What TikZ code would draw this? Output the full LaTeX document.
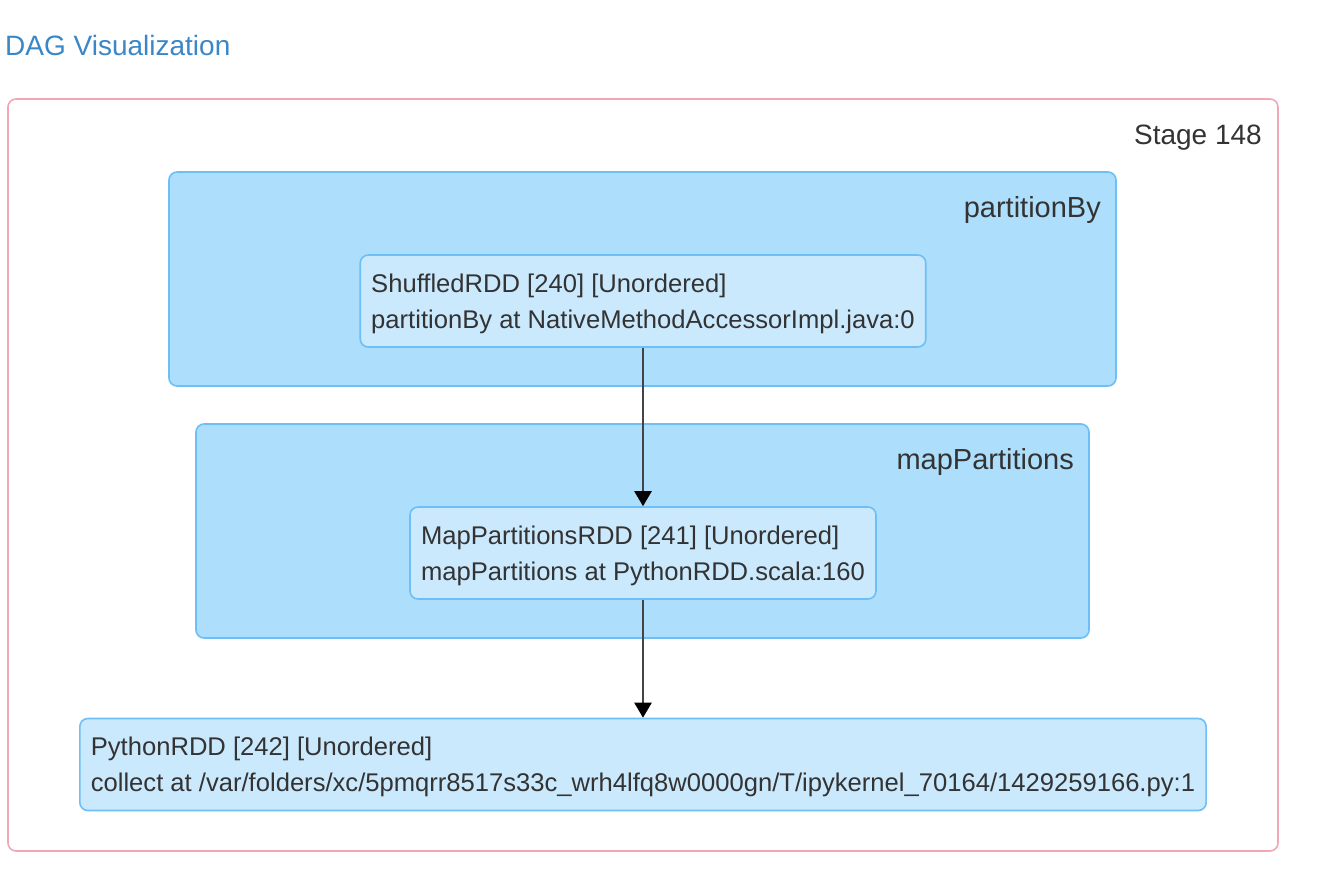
\documentclass[tikz,border=0pt]{standalone}
\usepackage{fontspec}
\setmainfont{Liberation Sans}
\usetikzlibrary{positioning,arrows.meta}
\definecolor{dagTitle}{HTML}{3A87C8}
\definecolor{dagStage}{HTML}{F2A8B4}
\definecolor{dagCluster}{HTML}{ADDEFB}
\definecolor{dagBorder}{HTML}{6DBFF5}
\definecolor{dagNode}{HTML}{CBE9FD}
\definecolor{dagText}{HTML}{333333}
\definecolor{dagEdge}{HTML}{444444}
\newcommand{\dagstrut}{\rule{0pt}{23.5pt}}
\tikzset{
  dag-stage/.style={
    draw=dagStage, line width=1.6pt, rounded corners=8pt,
    inner sep=0pt, minimum width=1270pt, minimum height=752pt
  },
  dag-cluster/.style={
    draw=dagBorder, fill=dagCluster, line width=1.6pt,
    rounded corners=8pt, inner sep=0pt
  },
  dag-rdd/.style={
    draw=dagBorder, fill=dagNode, line width=1.6pt, rounded corners=8pt,
    align=left, inner xsep=11pt, inner ysep=0pt, minimum height=92pt,
    text=dagText, font=\fontsize{25.6}{36}\selectfont
  },
  dag-label/.style={text=dagText, inner sep=0pt,
    font=\fontsize{29}{34}\selectfont, anchor=base east},
  dag-flow/.style={-{Triangle[length=15pt, width=17pt, color=black]},
    line width=2.4pt, draw=dagEdge},
  dag-title/.style={text=dagTitle, inner sep=0pt,
    font=\fontsize{28}{34}\selectfont, anchor=base west}
}
\begin{document}
\begin{tikzpicture}[x=1pt, y=-1pt]
\useasboundingbox (0,0) rectangle (1328,880);
% title
\node[dag-title] (title) at (5,56) {DAG Visualization};

% stage
\node[dag-stage] (stage) at (643,475) {};
\node[dag-label, font=\fontsize{28}{34}\selectfont] (stagelbl) at (1262,145)
  {Stage 148};

% clusters
\node[dag-cluster, minimum width=947pt, minimum height=214pt]
  (partby) at (642.5,279) {};
\node[dag-label] (partbylbl) at (1101,217) {partitionBy};
\node[dag-cluster, minimum width=893pt, minimum height=214pt]
  (mappart) at (642.5,531) {};
\node[dag-label] (mappartlbl) at (1074,469) {mapPartitions};

% RDDs
\node[dag-rdd] (shuf) at (643,301)
  {\dagstrut ShuffledRDD [240] [Unordered]\\
  partitionBy at NativeMethodAccessorImpl.java:0};
\node[dag-rdd] (mapp) at (643,553)
  {\dagstrut MapPartitionsRDD [241] [Unordered]\\
  mapPartitions at PythonRDD.scala:160};
\node[dag-rdd] (pyrdd) at (643,764.5)
  {\dagstrut PythonRDD [242] [Unordered]\\
  collect at /var/folders/xc/5pmqrr8517s33c\_wrh4lfq8w0000gn/T/ipykernel\_70164/1429259166.py:1};

% edges
\draw[dag-flow] (shuf) -- (mapp);
\draw[dag-flow] (mapp) -- (pyrdd);
\end{tikzpicture}
\end{document}
